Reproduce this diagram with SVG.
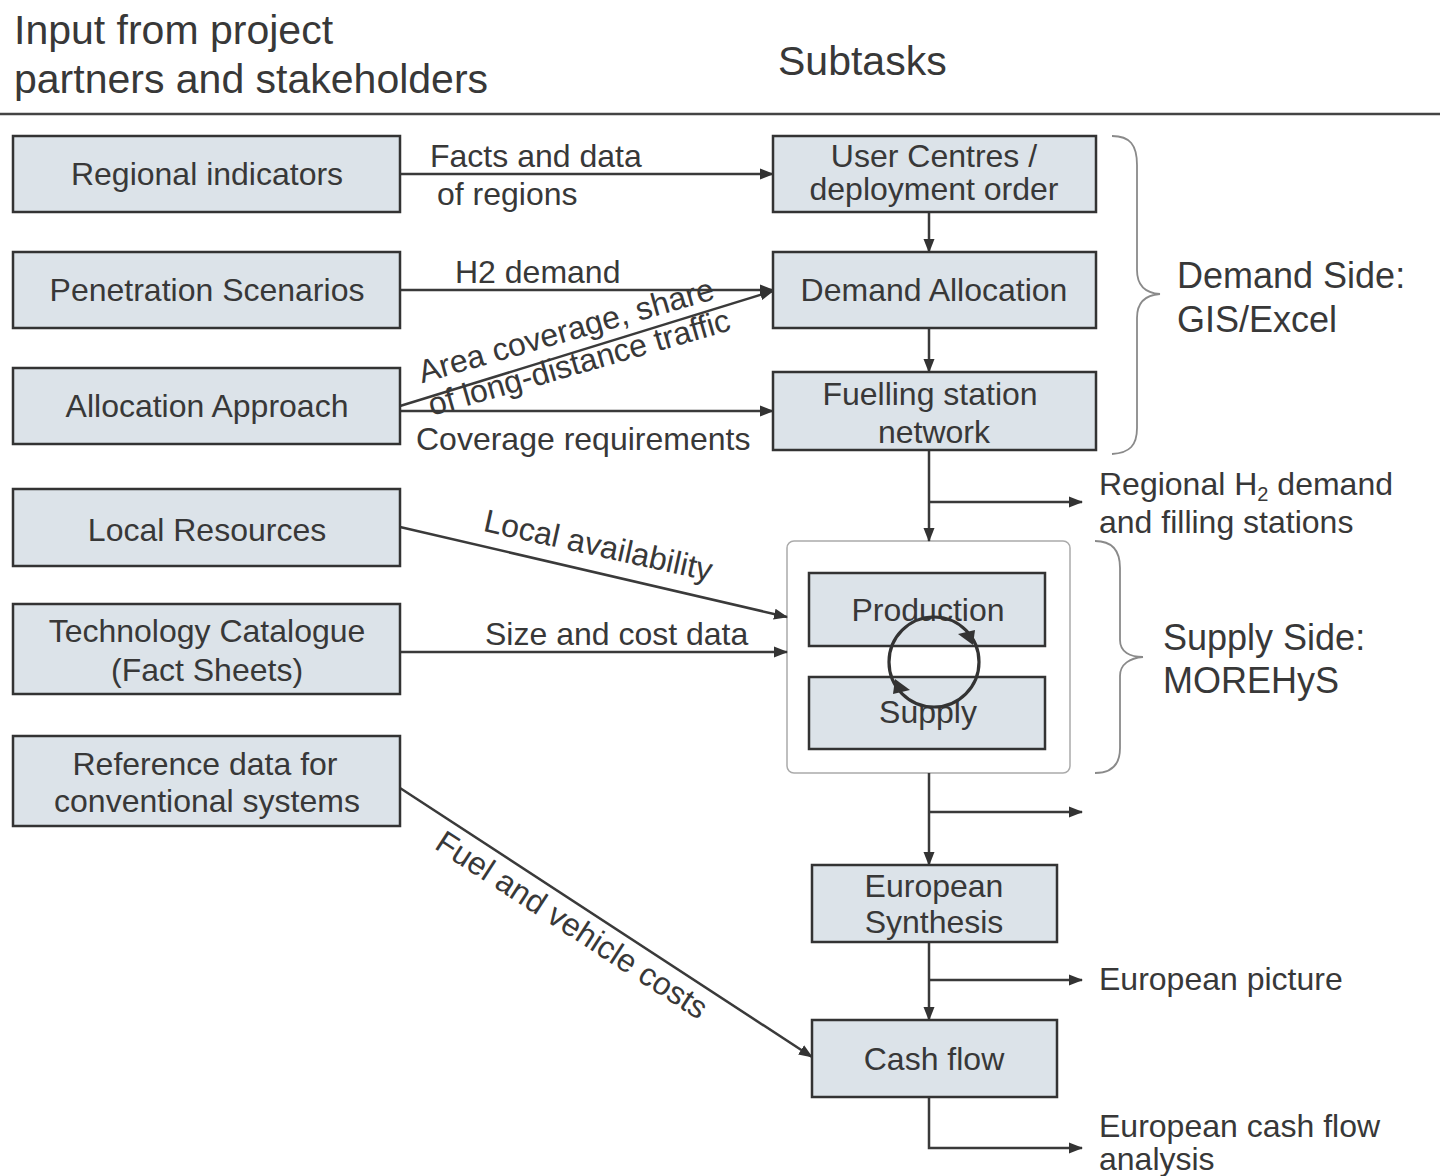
<svg xmlns="http://www.w3.org/2000/svg" width="1440" height="1176" viewBox="0 0 1440 1176">
<defs>
<style>
text{font-family:"Liberation Sans",Arial,sans-serif;fill:#383838;}
.hd{font-size:41px;}
.t{font-size:32px;}
.tm{font-size:32px;text-anchor:middle;}
.br{font-size:36px;}
.box{fill:#dce3e9;stroke:#333;stroke-width:2.5;}
.ln{fill:none;stroke:#3a3a3a;stroke-width:2.5;}
.arr{fill:none;stroke:#3a3a3a;stroke-width:2.5;marker-end:url(#ah);}
.brace{fill:none;stroke:#8a8a8a;stroke-width:1.8;}
</style>
<marker id="ah" markerWidth="14" markerHeight="12" refX="13" refY="6" orient="auto" markerUnits="userSpaceOnUse"><path d="M0,0.5 L14,6 L0,11.5 z" fill="#333"/></marker>
</defs>
<rect width="1440" height="1176" fill="#ffffff"/>
<g id="header">
<text class="hd" x="14" y="44">Input from project</text>
<text class="hd" x="14" y="93">partners and stakeholders</text>
<text class="hd" x="778" y="75">Subtasks</text>
<line x1="0" y1="114" x2="1440" y2="114" stroke="#444" stroke-width="2.5"/>
</g>
<g id="supply-frame">
<rect x="787" y="541" width="283" height="232" rx="7" fill="#fff" stroke="#aaa" stroke-width="1.5"/>
</g>
<g id="connectors">
<line class="arr" x1="400" y1="174" x2="773" y2="174"/>
<line class="arr" x1="400" y1="290" x2="773" y2="290"/>
<line class="arr" x1="400" y1="406" x2="773" y2="291"/>
<line class="arr" x1="400" y1="411" x2="773" y2="411"/>
<line class="arr" x1="400" y1="527" x2="787" y2="617"/>
<line class="arr" x1="400" y1="652" x2="787" y2="652"/>
<line class="arr" x1="400" y1="788" x2="812" y2="1057"/>
<line class="arr" x1="929" y1="212" x2="929" y2="252"/>
<line class="arr" x1="929" y1="328" x2="929" y2="372"/>
<line class="arr" x1="929" y1="450" x2="929" y2="541"/>
<line class="arr" x1="929" y1="502" x2="1082" y2="502"/>
<line class="arr" x1="929" y1="773" x2="929" y2="865"/>
<line class="arr" x1="929" y1="812" x2="1082" y2="812"/>
<line class="arr" x1="929" y1="942" x2="929" y2="1020"/>
<line class="arr" x1="929" y1="980" x2="1082" y2="980"/>
<path class="arr" d="M929,1097 L929,1148 L1082,1148"/>
</g>
<g id="connector-labels">
<text class="t" x="430" y="167">Facts and data</text>
<text class="t" x="437" y="205">of regions</text>
<text class="t" x="455" y="283">H2 demand</text>
<text class="tm" transform="rotate(-16 569 341)" x="569" y="341">Area coverage, share</text>
<text class="tm" transform="rotate(-16 582 373)" x="582" y="373">of long-distance traffic</text>
<text class="t" x="416" y="450">Coverage requirements</text>
<text class="tm" transform="rotate(12.5 596 556)" x="596" y="556">Local availability</text>
<text class="t" x="485" y="645">Size and cost data</text>
<text class="tm" transform="rotate(33 566 934)" x="566" y="934">Fuel and vehicle costs</text>
<text class="t" x="1099" y="495">Regional H<tspan font-size="20" dy="6">2</tspan><tspan dy="-6"> demand</tspan></text>
<text class="t" x="1099" y="533">and filling stations</text>
<text class="t" x="1099" y="990">European picture</text>
<text class="t" x="1099" y="1137">European cash flow</text>
<text class="t" x="1099" y="1170">analysis</text>
</g>
<g id="n-regional"><rect class="box" x="13" y="136" width="387" height="76"/><text class="tm" x="207" y="185">Regional indicators</text></g>
<g id="n-penetration"><rect class="box" x="13" y="252" width="387" height="76"/><text class="tm" x="207" y="301">Penetration Scenarios</text></g>
<g id="n-allocation"><rect class="box" x="13" y="368" width="387" height="76"/><text class="tm" x="207" y="417">Allocation Approach</text></g>
<g id="n-local"><rect class="box" x="13" y="489" width="387" height="77"/><text class="tm" x="207" y="541">Local Resources</text></g>
<g id="n-technology"><rect class="box" x="13" y="604" width="387" height="90"/><text class="tm" x="207" y="642">Technology Catalogue</text><text class="tm" x="207" y="681">(Fact Sheets)</text></g>
<g id="n-reference"><rect class="box" x="13" y="736" width="387" height="90"/><text class="tm" x="205" y="775">Reference data for</text><text class="tm" x="207" y="812">conventional systems</text></g>
<g id="n-usercentres"><rect class="box" x="773" y="136" width="323" height="76"/><text class="tm" x="934" y="167">User Centres /</text><text class="tm" x="934" y="200">deployment order</text></g>
<g id="n-demandalloc"><rect class="box" x="773" y="252" width="323" height="76"/><text class="tm" x="934" y="301">Demand Allocation</text></g>
<g id="n-fuelling"><rect class="box" x="773" y="372" width="323" height="78"/><text class="tm" x="930" y="405">Fuelling station</text><text class="tm" x="934" y="443">network</text></g>
<g id="n-production"><rect class="box" x="809" y="573" width="236" height="73"/><text class="tm" x="928" y="621">Production</text></g>
<g id="n-supply"><rect class="box" x="809" y="677" width="236" height="72"/><text class="tm" x="928" y="723">Supply</text></g>
<g id="cycle">
<circle cx="934" cy="662" r="45" fill="none" stroke="#333" stroke-width="3.2"/>
<polygon points="973,645 958,634 975,630" fill="#333"/>
<polygon points="895,679 910,690 893,694" fill="#333"/>
</g>
<g id="n-eusynthesis"><rect class="box" x="812" y="865" width="245" height="77"/><text class="tm" x="934" y="897">European</text><text class="tm" x="934" y="933">Synthesis</text></g>
<g id="n-cashflow"><rect class="box" x="812" y="1020" width="245" height="77"/><text class="tm" x="934" y="1070">Cash flow</text></g>
<g id="demand-side">
<path class="brace" d="M1112,136 C1130,136 1137,145 1137,165 L1137,270 C1137,285 1145,293 1160,294 C1145,295 1137,303 1137,318 L1137,428 C1137,445 1130,453 1112,454"/>
<text class="br" x="1177" y="288">Demand Side:</text>
<text class="br" x="1177" y="332">GIS/Excel</text>
</g>
<g id="supply-side">
<path class="brace" d="M1095,541 C1112,541 1120,550 1120,568 L1120,640 C1120,652 1130,657 1143,657 C1130,658 1120,664 1120,676 L1120,748 C1120,765 1112,773 1095,773"/>
<text class="br" x="1163" y="650">Supply Side:</text>
<text class="br" x="1163" y="693">MOREHyS</text>
</g>
</svg>
